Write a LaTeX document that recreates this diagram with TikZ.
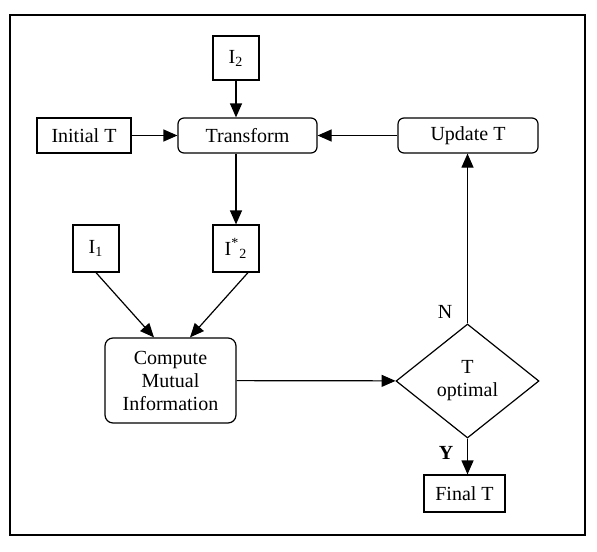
\documentclass[tikz,border=0pt]{standalone}
\usepackage{fontspec}
\setmainfont{Liberation Serif}
\usetikzlibrary{arrows.meta, shapes.geometric, positioning}
\tikzset{
  box/.style={draw, line width=0.6pt, inner sep=1pt, align=center},
  roundbox/.style={box, rounded corners=3pt},
  decision/.style={draw, diamond, line width=0.6pt, inner sep=0pt, align=center,
    minimum width=71.5pt, minimum height=57pt},
  flow/.style={-{Triangle[length=7pt,width=6pt]}, line width=0.6pt}
}

\begin{document}
\begin{tikzpicture}[x=0.5pt, y=-0.5pt, every node/.style={font=\fontsize{10}{11.5}\selectfont}]
\useasboundingbox (0,0) rectangle (597,551);
\draw[line width=0.8pt] (10,15) rectangle (585,535);
% inputs and transform row
\node[box, minimum width=23pt, minimum height=22pt] (i2) at (236,58) {I\textsubscript{2}};
\node[box, minimum width=47pt, minimum height=17.5pt] (initT) at (84,135.5) {Initial T};
\node[roundbox, minimum width=69.5pt, minimum height=17.5pt] (transform) at (247.5,135.5) {Transform};
\node[roundbox, minimum width=70pt, minimum height=17.5pt] (update) at (468,135.5) {Update T};
% images to compare
\node[box, minimum width=23pt, minimum height=23.5pt] (i1) at (96,248.5) {I\textsubscript{1}};
\node[box, minimum width=23pt, minimum height=23.5pt] (i2star) at (236,248.5) {I\textsuperscript{*}\textsubscript{2}};
\node[box, rounded corners=4pt, minimum width=65.5pt, minimum height=42.5pt] (mutual) at (170.5,380.5) {Compute\\Mutual\\Information};
% decision
\node[decision] (optimal) at (467.5,381) {T\\optimal};
\node[box, minimum width=40.5pt, minimum height=18.5pt] (finalT) at (464.5,493.5) {Final T};

\draw[flow] (i2) -- (i2 |- transform.north);
\draw[flow] (initT) -- (transform);
\draw[flow] (update) -- (transform);
\draw[flow] (transform.south -| i2star) -- (i2star);
\draw[flow] (i1.south) -- ([xshift=-8.25pt]mutual.north);
\draw[flow] ([xshift=6pt]i2star.south) -- ([xshift=9.75pt]mutual.north);
\draw[flow] (mutual) -- (optimal);
\draw[flow] (optimal.north) -- (optimal.north |- update.south);
\draw[flow] (optimal.south) -- (optimal.south |- finalT.north);
\node (no) at (445,312) {N};
\node (yes) at (446,453) {\textbf{Y}};
\end{tikzpicture}
\end{document}
